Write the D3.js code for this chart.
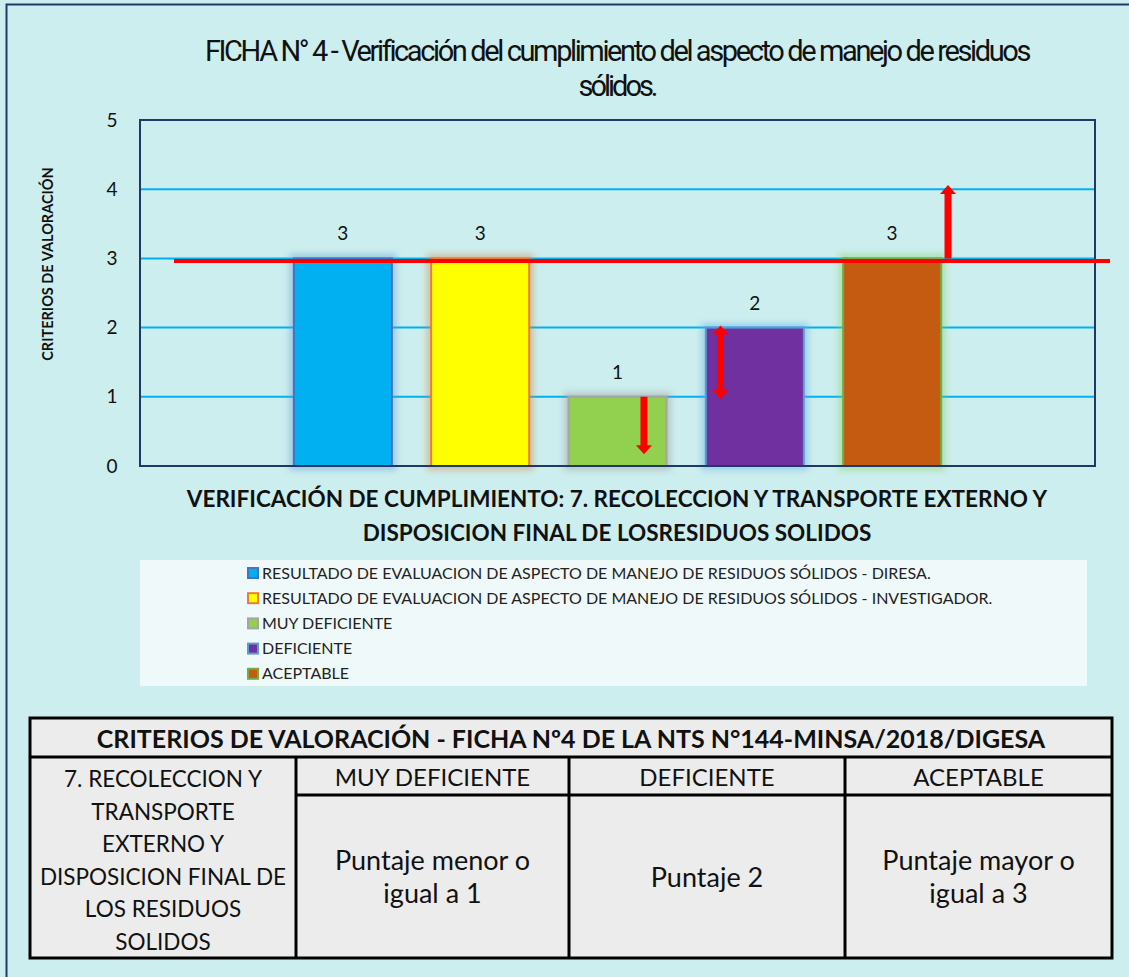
<!DOCTYPE html>
<html>
<head>
<meta charset="utf-8">
<script src="https://cdn.jsdelivr.net/npm/d3@7"></script>
<style>
  body { margin: 0; background: #cdeeee; }
  svg { display: block; }
  text { font-family: Lato, "Open Sans", sans-serif; fill: #111; }
</style>
</head>
<body>
<svg id="chart" width="1129" height="977"></svg>
<script>
// ---- data ----
const titleLines = ["FICHA N° 4 - Verificación del cumplimiento del aspecto de manejo de residuos", "sólidos."];
const yAxisTitle = "CRITERIOS DE VALORACIÓN";
const xAxisTitle = ["VERIFICACIÓN DE CUMPLIMIENTO: 7. RECOLECCION Y TRANSPORTE EXTERNO Y", "DISPOSICION FINAL DE LOSRESIDUOS SOLIDOS"];
const category = ["7. RECOLECCION Y TRANSPORTE EXTERNO Y DISPOSICION FINAL"];
const series = [
  "RESULTADO DE EVALUACION DE ASPECTO DE MANEJO DE RESIDUOS SÓLIDOS - DIRESA.",
  "RESULTADO DE EVALUACION DE ASPECTO DE MANEJO DE RESIDUOS SÓLIDOS - INVESTIGADOR.",
  "MUY DEFICIENTE",
  "DEFICIENTE",
  "ACEPTABLE"
];
const values = [3, 3, 1, 2, 3];
const yTicks = [0, 1, 2, 3, 4, 5];
const threshold = 3;
// red arrows: [series index, position across bar, from value, to value, double headed]
const arrows = [
  [2, 0.77, 1, 0.17, false],
  [3, 0.15, 0.97, 2.03, true],
  [4, 1.07, 3, 4.06, false]
];
const tableTitle = "CRITERIOS DE VALORACIÓN - FICHA Nº4 DE LA NTS N°144-MINSA/2018/DIGESA";
const tableRowLabel = ["7. RECOLECCION Y", "TRANSPORTE", "EXTERNO Y", "DISPOSICION FINAL DE", "LOS RESIDUOS", "SOLIDOS"];
const tableLevels = ["MUY DEFICIENTE", "DEFICIENTE", "ACEPTABLE"];
const tableCriteria = [["Puntaje menor o", "igual a 1"], ["Puntaje 2"], ["Puntaje mayor o", "igual a 3"]];

// ---- styles ----
const fills   = ["#00b0f0", "#ffff00", "#92d050", "#7030a0", "#c55a11"];
const strokes = ["#4472c4", "#ed7d31", "#a5a5a5", "#5b9bd5", "#70ad47"];
const glows   = ["#5b9bd5", "#c98a4a", "#9a9a9a", "#5baee5", "#7fd060"];

const svg = d3.select("#chart");
const W = 1129, H = 977;
const plot = { left: 140, right: 1095, top: 120, bottom: 466 };

const defs = svg.append("defs");
defs.append("filter").attr("id", "glow").attr("x", "-30%").attr("y", "-30%").attr("width", "160%").attr("height", "160%")
  .append("feGaussianBlur").attr("stdDeviation", 3);

// outer frame
svg.append("rect").attr("x", 6.5).attr("y", 4.5).attr("width", W + 10).attr("height", H + 10)
  .attr("fill", "#cdeeee").attr("stroke", "#1f3864").attr("stroke-width", 2);

// title: narrow font, spacing tightened to fit the reference width
const titleWidths = [823, 77];
svg.append("g").selectAll("text").data(titleLines).join("text")
  .attr("x", 617).attr("y", (d, i) => 61 + i * 35)
  .attr("text-anchor", "middle")
  .style("font-family", "'Liberation Sans Narrow', Roboto, sans-serif")
  .style("font-size", "29px")
  .text(d => d)
  .each(function (d, i) {
    const w = this.getComputedTextLength();
    d3.select(this).style("letter-spacing", ((titleWidths[i] - w) / d.length) + "px");
  });

// scales
const y = d3.scaleLinear().domain([0, 5]).range([plot.bottom, plot.top]);
const x0 = d3.scaleBand().domain(category).range([plot.left, plot.right]).paddingOuter(0.1955);
const x1 = d3.scaleBand().domain(series).range([0, x0.bandwidth()]).paddingInner(0.286).paddingOuter(0.143);
const barX = s => x0(category[0]) + x1(s);

// gridlines
svg.append("g").selectAll("line").data(yTicks.filter(t => t > 0 && t < 5)).join("line")
  .attr("x1", plot.left).attr("x2", plot.right)
  .attr("y1", d => y(d)).attr("y2", d => y(d))
  .attr("stroke", "#00b0f0").attr("stroke-width", 2);

// y axis labels
const yAxis = svg.append("g").attr("transform", `translate(${plot.left - 28},0)`)
  .call(d3.axisLeft(y).tickValues(yTicks).tickSize(0).tickPadding(0).tickFormat(d3.format("d")));
yAxis.select(".domain").remove();
yAxis.selectAll("text").style("font-size", "19px").style("font-family", "Lato, sans-serif")
  .attr("fill", "#111").attr("text-anchor", "middle");

svg.append("text")
  .attr("transform", "translate(53,264) rotate(-90)")
  .attr("text-anchor", "middle")
  .style("font-size", "14.5px").style("font-weight", "bold")
  .text(yAxisTitle);

// bars with glow
const bars = svg.append("g").selectAll("g").data(series).join("g");
bars.append("rect")
  .attr("x", d => barX(d)).attr("width", x1.bandwidth())
  .attr("y", (d, i) => y(values[i])).attr("height", (d, i) => y(0) - y(values[i]))
  .attr("fill", "none").attr("stroke", (d, i) => glows[i]).attr("stroke-width", 9)
  .attr("stroke-opacity", 0.45).attr("filter", "url(#glow)");
bars.append("rect")
  .attr("x", d => barX(d)).attr("width", x1.bandwidth())
  .attr("y", (d, i) => y(values[i])).attr("height", (d, i) => y(0) - y(values[i]))
  .attr("fill", (d, i) => fills[i]).attr("stroke", (d, i) => strokes[i]).attr("stroke-width", 2);

// data labels
svg.append("g").selectAll("text").data(series).join("text")
  .attr("x", d => barX(d) + x1.bandwidth() / 2)
  .attr("y", (d, i) => y(values[i]) - 18)
  .attr("text-anchor", "middle")
  .style("font-size", "19px")
  .text((d, i) => values[i]);

// plot frame
svg.append("rect")
  .attr("x", plot.left).attr("y", plot.top)
  .attr("width", plot.right - plot.left).attr("height", plot.bottom - plot.top)
  .attr("fill", "none").attr("stroke", "#1f3864").attr("stroke-width", 2);

// threshold line
svg.append("line")
  .attr("x1", plot.left + 34).attr("x2", plot.right + 15)
  .attr("y1", y(threshold) + 2.5).attr("y2", y(threshold) + 2.5)
  .attr("stroke", "#ff0000").attr("stroke-width", 4);

// arrows
function arrowPath(cx, ya, yb, both) {
  const sw = 3.5, hw = 8, hl = 9;
  const dir = yb > ya ? 1 : -1;
  const tipB = yb, baseB = yb - dir * hl;
  let p = [];
  if (both) {
    const baseA = ya + dir * hl;
    p = [[cx, ya], [cx + hw, baseA], [cx + sw, baseA], [cx + sw, baseB], [cx + hw, baseB], [cx, tipB],
         [cx - hw, baseB], [cx - sw, baseB], [cx - sw, baseA], [cx - hw, baseA]];
  } else {
    p = [[cx - sw, ya], [cx + sw, ya], [cx + sw, baseB], [cx + hw, baseB], [cx, tipB], [cx - hw, baseB], [cx - sw, baseB]];
  }
  return "M" + p.map(q => q.join(",")).join("L") + "Z";
}
svg.append("g").selectAll("path").data(arrows).join("path")
  .attr("d", a => arrowPath(barX(series[a[0]]) + a[1] * x1.bandwidth(), y(a[2]), y(a[3]), a[4]))
  .attr("fill", "#ff0000");

// x axis title
svg.append("g").selectAll("text").data(xAxisTitle).join("text")
  .attr("x", 617).attr("y", (d, i) => 507 + i * 34)
  .attr("text-anchor", "middle")
  .style("font-size", "22.5px").style("font-weight", "bold")
  .text(d => d);

// legend
svg.append("rect").attr("x", 140).attr("y", 560).attr("width", 947).attr("height", 126).attr("fill", "#f0f9f9");
const leg = svg.append("g").selectAll("g").data(series).join("g")
  .attr("transform", (d, i) => `translate(247,${572.5 + i * 25.2})`);
leg.append("rect").attr("x", 1).attr("y", -4.5).attr("width", 10).attr("height", 10)
  .attr("fill", (d, i) => fills[i]).attr("stroke", (d, i) => strokes[i]).attr("stroke-width", 2);
leg.append("text").attr("x", 15).attr("y", 6)
  .style("font-size", "16px").style("fill", "#222")
  .text(d => d);

// criteria table
const T = { left: 30, right: 1112, top: 718, head: 757, sub: 795, bottom: 958 };
const cols = [T.left, 296, 569, 845, T.right];
const tg = svg.append("g");
tg.append("rect").attr("x", T.left).attr("y", T.top).attr("width", T.right - T.left).attr("height", T.bottom - T.top)
  .attr("fill", "#ececec").attr("stroke", "#000").attr("stroke-width", 3);
tg.append("line").attr("x1", T.left).attr("x2", T.right).attr("y1", T.head).attr("y2", T.head).attr("stroke", "#000").attr("stroke-width", 3);
tg.append("line").attr("x1", cols[1]).attr("x2", T.right).attr("y1", T.sub).attr("y2", T.sub).attr("stroke", "#000").attr("stroke-width", 3);
tg.selectAll("line.col").data(cols.slice(1, 4)).join("line").attr("class", "col")
  .attr("x1", d => d).attr("x2", d => d).attr("y1", T.head).attr("y2", T.bottom)
  .attr("stroke", "#000").attr("stroke-width", 3);

tg.append("text").attr("x", 571).attr("y", 748)
  .attr("text-anchor", "middle").style("font-size", "25px").style("font-weight", "bold")
  .text(tableTitle);

tg.selectAll("text.lvl").data(tableLevels).join("text").attr("class", "lvl")
  .attr("x", (d, i) => (cols[i + 1] + cols[i + 2]) / 2).attr("y", 786)
  .attr("text-anchor", "middle").style("font-size", "24px")
  .text(d => d);

tg.selectAll("text.row").data(tableRowLabel).join("text").attr("class", "row")
  .attr("x", (cols[0] + cols[1]) / 2).attr("y", (d, i) => 787 + i * 32.6)
  .attr("text-anchor", "middle").style("font-size", "22.5px")
  .text(d => d);

tableCriteria.forEach((lines, i) => {
  const cx = (cols[i + 1] + cols[i + 2]) / 2;
  const mid = (T.sub + T.bottom) / 2;
  tg.append("g").selectAll("text").data(lines).join("text")
    .attr("x", cx)
    .attr("y", (d, j) => mid + 10 + (j - (lines.length - 1) / 2) * 33)
    .attr("text-anchor", "middle").style("font-size", "27px")
    .text(d => d);
});
</script>
</body>
</html>
